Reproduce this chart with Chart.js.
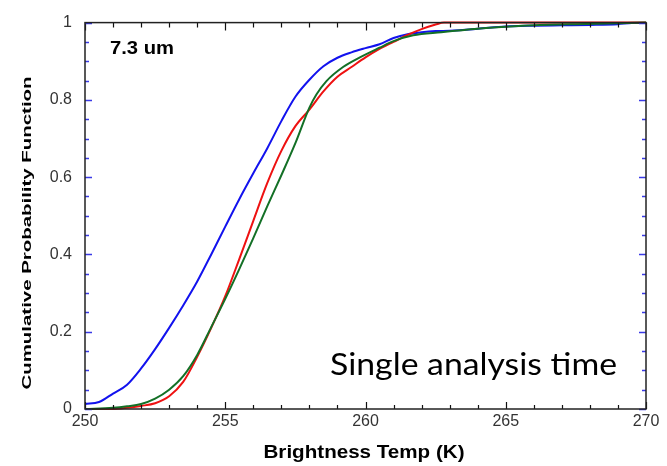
<!DOCTYPE html>
<html>
<head>
<meta charset="utf-8">
<script src="https://cdn.jsdelivr.net/npm/chart.js@4.4.1/dist/chart.umd.min.js"></script>
<style>
  html, body { margin: 0; padding: 0; background: #ffffff; }
  #wrap { width: 667px; height: 466px; }
</style>
</head>
<body>
<div id="wrap"><canvas id="c" width="667" height="466"></canvas></div>
<script>
// ---- data ----
const blueT = [250.0, 250.5, 251.0, 251.5, 252.0, 252.5, 253.0, 253.5, 254.0, 254.5, 255.0, 255.5, 256.0, 256.5, 257.0, 257.5, 258.0, 258.5, 259.0, 259.5, 260.0, 260.5, 261.0, 261.5, 262.0, 262.5, 263.0, 264.0, 265.0, 266.0, 267.0, 268.0, 269.0, 269.5, 270.0];
const blueP = [0.013, 0.018, 0.040, 0.063, 0.105, 0.155, 0.210, 0.268, 0.330, 0.400, 0.472, 0.543, 0.610, 0.675, 0.745, 0.808, 0.852, 0.887, 0.909, 0.923, 0.934, 0.944, 0.960, 0.970, 0.975, 0.978, 0.979, 0.984, 0.990, 0.992, 0.993, 0.994, 0.996, 0.999, 0.999];

const redT = [250.0, 251.0, 251.5, 252.0, 252.5, 253.0, 253.5, 254.0, 254.5, 255.0, 255.5, 256.0, 256.5, 257.0, 257.5, 258.0, 258.5, 259.0, 259.5, 260.0, 260.5, 261.0, 261.5, 262.0, 262.5, 262.8, 270.0];
const redP = [0.0, 0.0, 0.003, 0.008, 0.015, 0.033, 0.070, 0.135, 0.210, 0.292, 0.388, 0.487, 0.585, 0.668, 0.732, 0.775, 0.822, 0.860, 0.885, 0.910, 0.932, 0.950, 0.968, 0.983, 0.995, 1.0, 1.0];

const greenT = [250.0, 251.0, 251.5, 252.0, 252.5, 253.0, 253.5, 254.0, 254.5, 255.0, 255.5, 256.0, 256.5, 257.0, 257.5, 258.0, 258.25, 258.6, 259.2, 259.8, 260.5, 261.0, 261.7, 262.7, 264.0, 265.0, 266.0, 267.5, 269.0, 270.0];
const greenP = [0.0, 0.003, 0.007, 0.013, 0.027, 0.050, 0.085, 0.140, 0.212, 0.285, 0.362, 0.442, 0.525, 0.605, 0.688, 0.780, 0.814, 0.848, 0.885, 0.910, 0.935, 0.952, 0.967, 0.975, 0.984, 0.989, 0.993, 0.996, 0.998, 1.0];

const xTickLabels = ['250', '255', '260', '265', '270'];
const yTickLabels = ['0', '0.2', '0.4', '0.6', '0.8', '1'];

const xTitle = 'Brightness Temp (K)';
const yTitle = 'Cumulative Probability Function';
const panelLabel = '7.3 um';
const noteLabel = 'Single analysis time';

function pts(xs, ys) { return xs.map((x, i) => ({ x: x, y: ys[i] })); }

// draw text, optionally stretched to a target width
function drawStretched(ctx, text, cx, cy, font, targetW, rot, align) {
  ctx.save();
  ctx.font = font;
  const w = ctx.measureText(text).width;
  const s = targetW ? targetW / w : 1;
  ctx.translate(cx, cy);
  if (rot) ctx.rotate(rot);
  ctx.scale(s, 1);
  ctx.textAlign = align || 'center';
  ctx.textBaseline = 'alphabetic';
  ctx.fillStyle = '#000';
  ctx.fillText(text, 0, 0);
  ctx.restore();
}

const framePlugin = {
  id: 'frame',
  afterDraw(chart) {
    const ctx = chart.ctx;
    const a = chart.chartArea;
    const xs = chart.scales.x, ys = chart.scales.y;
    ctx.save();
    // x ticks (bottom and top), minor every 1 K, major every 5 K
    ctx.strokeStyle = '#111';
    ctx.lineWidth = 1.2;
    for (let v = xs.min; v <= xs.max + 1e-9; v += 1) {
      const px = Math.round(xs.getPixelForValue(v)) + 0.5;
      const major = Math.abs((v - xs.min) % 5) < 1e-6;
      const lb = major ? 7 : 4, lt = major ? 8 : 5;
      ctx.beginPath();
      ctx.moveTo(px, a.bottom); ctx.lineTo(px, a.bottom - lb);
      ctx.moveTo(px, a.top); ctx.lineTo(px, a.top + lt);
      ctx.stroke();
    }
    // y ticks (left and right), minor every 0.05, major every 0.2
    ctx.strokeStyle = '#3a3ae6';
    ctx.lineWidth = 1.4;
    for (let k = 0; k <= 20; k++) {
      const v = k * 0.05;
      const py = Math.round(ys.getPixelForValue(v)) + 0.5;
      const major = k % 4 === 0;
      const l = major ? 7 : 4;
      ctx.beginPath();
      ctx.moveTo(a.left, py); ctx.lineTo(a.left + l, py);
      ctx.moveTo(a.right, py); ctx.lineTo(a.right - l, py);
      ctx.stroke();
    }
    // frame
    ctx.strokeStyle = '#222';
    ctx.lineWidth = 1.5;
    ctx.strokeRect(a.left, a.top, a.right - a.left, a.bottom - a.top);
    ctx.restore();

    // axis titles and annotations
    drawStretched(ctx, xTitle, 364, 458, 'bold 18px "Liberation Sans", Arial, sans-serif', 201, 0, 'center');
    drawStretched(ctx, yTitle, 31, 233, 'bold 13px "Liberation Sans", Arial, sans-serif', 313, -Math.PI / 2, 'center');
    drawStretched(ctx, panelLabel, 110, 54, 'bold 19px "Liberation Sans", Arial, sans-serif', 64, 0, 'left');
    drawStretched(ctx, noteLabel, 330, 375, '30px Lato, "Open Sans", sans-serif', 287, 0, 'left');
  }
};

const lineStyle = { borderWidth: 2, pointRadius: 0, fill: false, cubicInterpolationMode: 'monotone', clip: false };

new Chart(document.getElementById('c'), {
  type: 'line',
  data: {
    datasets: [
      Object.assign({ label: 'green', data: pts(greenT, greenP), borderColor: '#137026' }, lineStyle),
      Object.assign({ label: 'red', data: pts(redT, redP), borderColor: '#ee1111' }, lineStyle),
      Object.assign({ label: 'blue', data: pts(blueT, blueP), borderColor: '#1212ee' }, lineStyle)
    ]
  },
  options: {
    responsive: false,
    animation: false,
    devicePixelRatio: 1,
    layout: { padding: { top: 17, right: 21, left: 0, bottom: 0 } },
    plugins: { legend: { display: false }, tooltip: { enabled: false } },
    scales: {
      x: {
        type: 'linear', min: 250, max: 270,
        grid: { display: false, drawTicks: false },
        border: { display: false },
        ticks: {
          stepSize: 5, padding: 3, color: '#333',
          font: { family: '"Liberation Sans", Arial, sans-serif', size: 16 },
          callback: (v) => { const i = xTickLabels.indexOf(String(v)); return i >= 0 ? xTickLabels[i] : ''; }
        },
        afterFit: (s) => { s.height = 57; }
      },
      y: {
        type: 'linear', min: 0, max: 1,
        grid: { display: false, drawTicks: false },
        border: { display: false },
        ticks: {
          stepSize: 0.2, padding: 13, color: '#333',
          font: { family: '"Liberation Sans", Arial, sans-serif', size: 16 },
          callback: (v) => yTickLabels[Math.round(v / 0.2)]
        },
        afterFit: (s) => { s.width = 85; }
      }
    }
  },
  plugins: [framePlugin]
});
</script>
</body>
</html>
